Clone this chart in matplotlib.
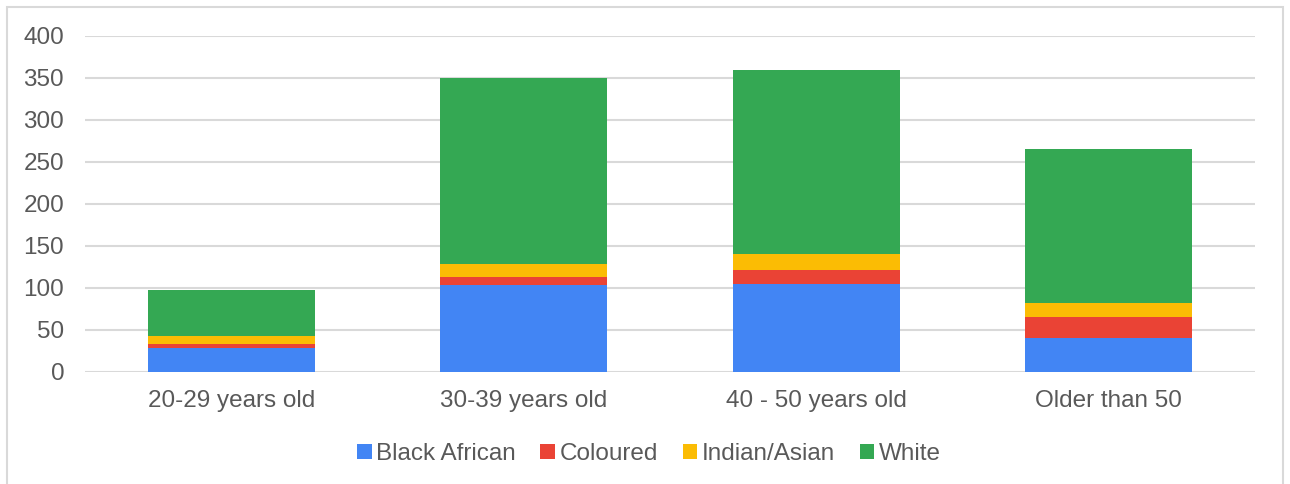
import matplotlib.pyplot as plt
import numpy as np
from matplotlib.patches import Rectangle

plt.rcParams['font.family'] = ['Liberation Sans', 'DejaVu Sans']

# Respondents by age group, stacked by population group
age_groups = ['20-29 years old', '30-39 years old', '40 - 50 years old', 'Older than 50']
black_african = [29, 103, 105, 41]
coloured = [4, 10, 17, 25]
indian_asian = [10, 16, 19, 16]
white = [55, 221, 219, 184]

series = [('Black African', black_african, '#4285F4'),
          ('Coloured', coloured, '#EA4335'),
          ('Indian/Asian', indian_asian, '#FBBC04'),
          ('White', white, '#34A853')]

fig = plt.figure(figsize=(12.9, 4.84), dpi=100)
ax = fig.add_axes([85 / 1290, 112 / 484, 1170 / 1290, 336 / 484])

x = np.arange(len(age_groups))
bottom = np.zeros(len(age_groups))
for name, vals, col in series:
    ax.bar(x, vals, 0.57, bottom=bottom, color=col, label=name, zorder=3)
    bottom += np.array(vals)

ax.set_xlim(-0.5, 3.5)
ax.set_ylim(0, 400)
ax.set_yticks(range(0, 401, 50))
ax.set_xticks(x)
ax.set_xticklabels(age_groups)
ax.tick_params(length=0, labelsize=17.5, colors='#595959')
ax.tick_params(axis='y', pad=15)
ax.tick_params(axis='x', pad=13)
ax.grid(axis='y', color='#D9D9D9', linewidth=1.5, zorder=0)
for s in ax.spines.values():
    s.set_visible(False)

fig.legend(loc='center', bbox_to_anchor=(0.5 + 4 / 1290, 30 / 484), ncol=4, frameon=False,
           fontsize=17.5, labelcolor='#595959', handlelength=0.6, handleheight=0.6,
           handletextpad=0.2, columnspacing=1.0)

# light frame round the chart
fig.patches.append(Rectangle((7 / 1290, -0.1), 1276 / 1290, 1.1 - 7 / 484,
                             transform=fig.transFigure, fill=False,
                             edgecolor='#D9D9D9', linewidth=1.5))

fig.savefig('out.png', dpi=100)
